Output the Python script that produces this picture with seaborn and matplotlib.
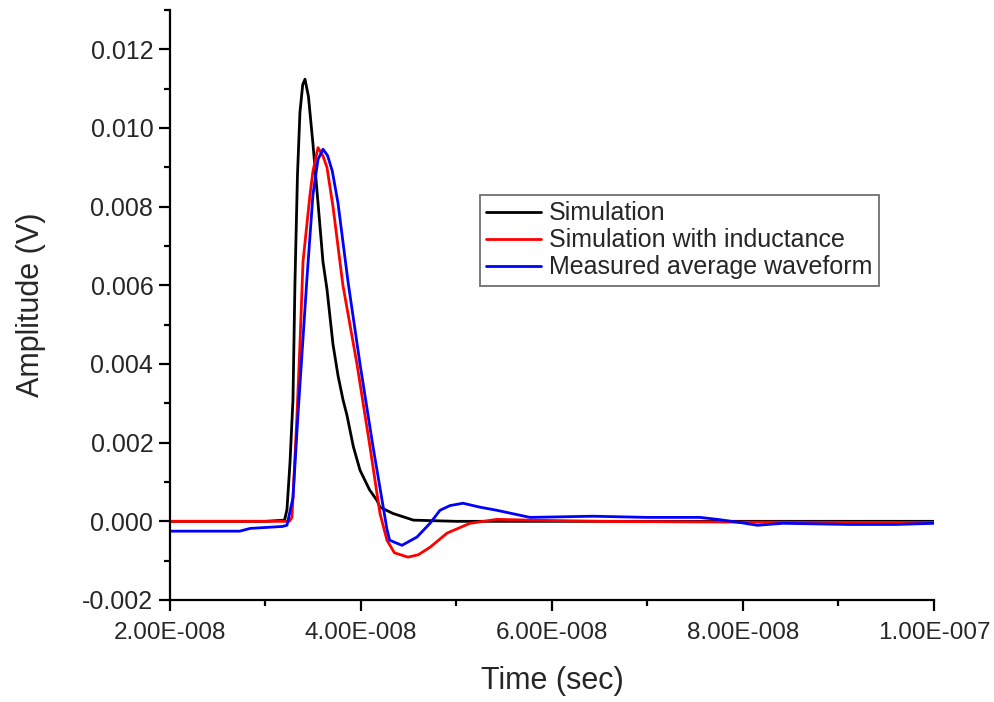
import numpy as np
import pandas as pd
import matplotlib
matplotlib.use("Agg")
import matplotlib.pyplot as plt
from matplotlib.ticker import MultipleLocator, FuncFormatter
import seaborn as sns

# time values in units of 1E-8 s
sim_t = [2.0, 3.0, 3.20, 3.225, 3.257, 3.288, 3.309, 3.335, 3.361, 3.39, 3.414, 3.45,
         3.497, 3.55, 3.602, 3.644, 3.707, 3.76, 3.811, 3.853, 3.92, 3.99, 4.09, 4.168,
         4.199, 4.335, 4.55, 5.0, 6.0, 8.0, 10.0]
sim_v = [0, 0, 0.00003, 0.0003, 0.0015, 0.0031, 0.0061, 0.0088, 0.0104, 0.0111, 0.01124, 0.0108,
         0.0096, 0.0081, 0.0066, 0.0059, 0.0045, 0.0037, 0.0031, 0.0027, 0.0019, 0.0013, 0.0008, 0.00053,
         0.00036, 0.0002, 0.00003, 0, 0, 0, 0]

ind_t = [2.0, 3.0, 3.25, 3.277, 3.288, 3.330, 3.361, 3.393, 3.466, 3.497, 3.550, 3.60,
         3.644, 3.707, 3.811, 3.958, 4.094, 4.199, 4.272, 4.35, 4.492, 4.60, 4.723, 4.901,
         5.141, 5.424, 5.77, 6.5, 8.0, 10.0]
ind_v = [0, 0, 0, 0.0001, 0.0006, 0.0027, 0.0045, 0.0066, 0.0083, 0.0089, 0.0095, 0.0093,
         0.0090, 0.0080, 0.0060, 0.0040, 0.0019, 0.0002, -0.00048, -0.0008, -0.00091, -0.00085, -0.00066, -0.0003,
         -0.00005, 0.00005, 0.00003, 0.0, -0.00002, -0.00003]

meas_t = [2.0, 2.73, 2.84, 3.18, 3.225, 3.288, 3.340, 3.435, 3.497, 3.55, 3.602, 3.65, 3.70, 3.759,
          3.864, 3.99, 4.126, 4.272, 4.30, 4.429, 4.586, 4.723, 4.827, 4.932, 5.068, 5.246,
          5.424, 5.77, 6.43, 7.0, 7.55, 7.73, 7.97, 8.15, 8.42, 9.12, 9.6, 10.0]
meas_v = [-0.00025, -0.00025, -0.00018, -0.00013, -0.0001, 0.0006, 0.0027, 0.0062, 0.0083, 0.0092, 0.00946, 0.0093, 0.0089, 0.0081,
          0.0061, 0.0040, 0.0019, -0.0002, -0.00048, -0.00061, -0.0004, -0.00005, 0.00028, 0.0004, 0.00046, 0.00036,
          0.00028, 0.0001, 0.00013, 0.0001, 0.0001, 0.00005, -0.00003, -0.0001, -0.00005, -0.00008, -0.00008, -0.00005]

labels = ["Simulation", "Simulation with inductance", "Measured average waveform"]
colors = ["#000000", "#ff0000", "#0000ff"]

df = pd.concat([
    pd.DataFrame({"t": np.array(sim_t) * 1e-8, "v": sim_v, "series": labels[0]}),
    pd.DataFrame({"t": np.array(ind_t) * 1e-8, "v": ind_v, "series": labels[1]}),
    pd.DataFrame({"t": np.array(meas_t) * 1e-8, "v": meas_v, "series": labels[2]}),
])

sns.set_style("ticks")
plt.rcParams["font.family"] = ["Liberation Sans", "DejaVu Sans"]

fig = plt.figure(figsize=(9.94, 7.02), dpi=100)
ax = fig.add_axes([0.171, 0.1453, 0.7686, 0.8405])

sns.lineplot(data=df, x="t", y="v", hue="series", palette=dict(zip(labels, colors)),
             estimator=None, sort=False, linewidth=2.0, ax=ax)

ax.set_xlim(2e-8, 1e-7)
ax.set_ylim(-0.002, 0.013)
ax.xaxis.set_major_locator(MultipleLocator(2e-8))
ax.xaxis.set_minor_locator(MultipleLocator(1e-8))
ax.yaxis.set_major_locator(MultipleLocator(0.002))
ax.yaxis.set_minor_locator(MultipleLocator(0.001))


def sci3(x, pos):
    # Origin style: 4.00E-008
    if x == 0:
        return "0"
    e = int(np.floor(np.log10(abs(x)) + 1e-9))
    m = x / 10 ** e
    if e < 0:
        return f"{m:.2f}E-{abs(e):03d}"
    return f"{m:.2f}E+{e:03d}"


ax.xaxis.set_major_formatter(FuncFormatter(sci3))
ax.yaxis.set_major_formatter(FuncFormatter(lambda y, p: f"{y:.3f}"))

sns.despine(ax=ax)
for s in ["left", "bottom"]:
    ax.spines[s].set_linewidth(1.6)
    ax.spines[s].set_color("black")
ax.tick_params(which="major", length=8, width=1.6, color="black")
ax.tick_params(which="minor", length=4.5, width=1.6, color="black")
ax.tick_params(axis="x", labelsize=17.5, pad=8)
ax.tick_params(axis="y", labelsize=18, pad=4)

ax.set_xlabel("Time (sec)", fontsize=22, labelpad=16)
ax.set_ylabel("Amplitude (V)", fontsize=22, labelpad=26)

leg = ax.legend(loc="upper left", bbox_to_anchor=(0.406, 0.686), fontsize=18,
                frameon=True, fancybox=False, framealpha=1, edgecolor="#707070",
                handlelength=2.2, handletextpad=0.3, labelspacing=0.12, borderpad=0.25,
                borderaxespad=0)
leg.get_frame().set_linewidth(1.3)
for line in leg.get_lines():
    line.set_linewidth(2.0)

fig.savefig("out.png", dpi=100)
